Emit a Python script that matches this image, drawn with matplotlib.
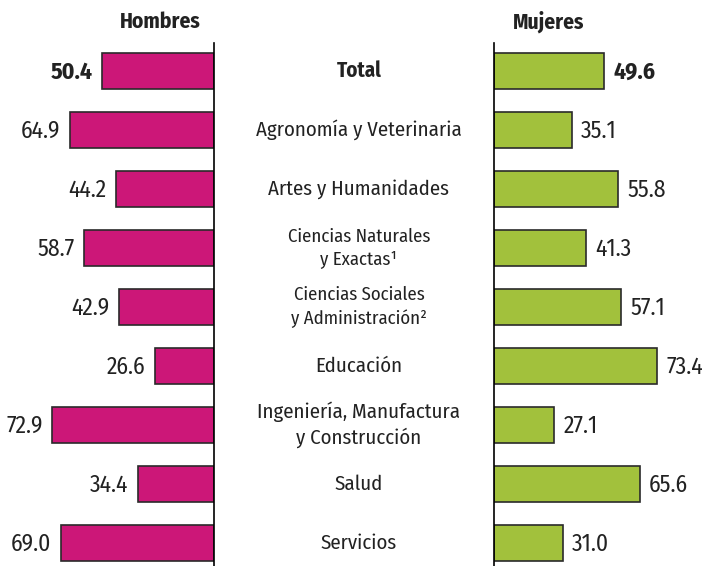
import matplotlib
matplotlib.use("Agg")
import matplotlib.pyplot as plt

categories = ["Total", "Agronomía y Veterinaria", "Artes y Humanidades",
              "Ciencias Naturales\ny Exactas¹", "Ciencias Sociales\ny Administración²",
              "Educación", "Ingeniería, Manufactura\ny Construcción", "Salud", "Servicios"]
hombres = [50.4, 64.9, 44.2, 58.7, 42.9, 26.6, 72.9, 34.4, 69.0]
mujeres = [49.6, 35.1, 55.8, 41.3, 57.1, 73.4, 27.1, 65.6, 31.0]

plt.rcParams['font.family'] = ["Fira Sans Condensed", "DejaVu Sans"]

W, H = 703, 566
fig = plt.figure(figsize=(W/100, H/100), dpi=100)
top_px, bot_px = 43, 566
axL = fig.add_axes([0, 0, 214/W, (bot_px-top_px)/H])
axR = fig.add_axes([494/W, 0, (W-494)/W, (bot_px-top_px)/H])

pink = "#CC1778"
green = "#A2C13C"
edge = "#2a2a2a"
txtc = "#222222"
n = len(categories)
ys = list(range(n))
y0 = (top_px-71)/59
y1 = (bot_px-71)/59

axL.barh(ys, hombres, height=0.61, color=pink, edgecolor=edge, linewidth=1.2)
axR.barh(ys, mujeres, height=0.61, color=green, edgecolor=edge, linewidth=1.2)
axL.set_xlim(214/2.22, 0)
axR.set_xlim(0, (W-494)/2.22)
for ax in (axL, axR):
    ax.set_ylim(y1, y0)
    ax.set_xticks([]); ax.set_yticks([])
    for s in ax.spines.values():
        s.set_visible(False)
axL.spines['right'].set_visible(True)
axR.spines['left'].set_visible(True)
axL.spines['right'].set_linewidth(1.2)
axR.spines['left'].set_linewidth(1.2)

for i, (h, m) in enumerate(zip(hombres, mujeres)):
    w = 'bold' if i == 0 else 'normal'
    axL.text(h + 4.2, i + 0.02, f"{h:.1f}", ha='right', va='center', fontsize=17,
             fontweight=w, color=txtc)
    axR.text(m + 4.2, i + 0.02, f"{m:.1f}", ha='left', va='center', fontsize=17,
             fontweight=w, color=txtc)
    tx = 359/W
    ty = (H - (71 + 59*i))/H
    lab = categories[i]
    if "\n" in lab:
        fs = 15 if lab.startswith("Ingenier") else 13.5
        ls = 1.3 if fs == 15 else 1.35
        fig.text(tx, ty, lab, ha='center', va='center', fontsize=fs,
                 color=txtc, linespacing=ls)
    else:
        fig.text(tx, ty, lab, ha='center', va='center', fontsize=15,
                 fontweight=w, color=txtc)

fig.text(160/W, 1-22/H, "Hombres", ha='center', va='center', fontsize=15.5, fontweight='bold', color=txtc)
fig.text(549/W, 1-22/H, "Mujeres", ha='center', va='center', fontsize=15.5, fontweight='bold', color=txtc)

fig.savefig("out.png", dpi=100)
